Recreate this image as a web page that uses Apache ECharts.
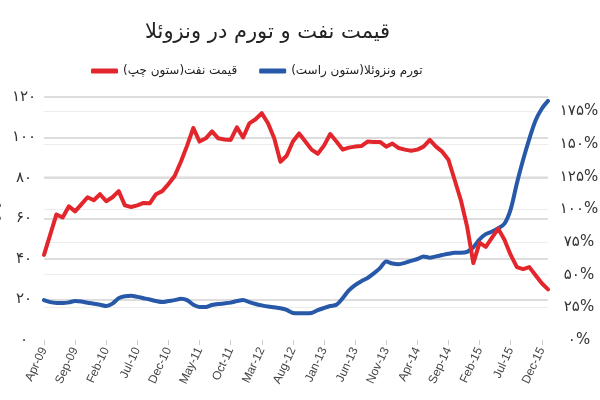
<!DOCTYPE html>
<html>
<head>
<meta charset="utf-8">
<script src="https://cdn.jsdelivr.net/npm/echarts@6/dist/echarts.min.js"></script>
<style>
  html, body { margin: 0; padding: 0; background: #fff; }
  #app { width: 600px; height: 400px; }
</style>
</head>
<body>
<div id="app"></div>
<script>
// months Apr-09 .. Jan-16
var months = [
    'Apr-09', 'May-09', 'Jun-09', 'Jul-09', 'Aug-09', 'Sep-09', 'Oct-09', 'Nov-09', 'Dec-09',
    'Jan-10', 'Feb-10', 'Mar-10', 'Apr-10', 'May-10', 'Jun-10', 'Jul-10', 'Aug-10', 'Sep-10', 'Oct-10', 'Nov-10', 'Dec-10',
    'Jan-11', 'Feb-11', 'Mar-11', 'Apr-11', 'May-11', 'Jun-11', 'Jul-11', 'Aug-11', 'Sep-11', 'Oct-11', 'Nov-11', 'Dec-11',
    'Jan-12', 'Feb-12', 'Mar-12', 'Apr-12', 'May-12', 'Jun-12', 'Jul-12', 'Aug-12', 'Sep-12', 'Oct-12', 'Nov-12', 'Dec-12',
    'Jan-13', 'Feb-13', 'Mar-13', 'Apr-13', 'May-13', 'Jun-13', 'Jul-13', 'Aug-13', 'Sep-13', 'Oct-13', 'Nov-13', 'Dec-13',
    'Jan-14', 'Feb-14', 'Mar-14', 'Apr-14', 'May-14', 'Jun-14', 'Jul-14', 'Aug-14', 'Sep-14', 'Oct-14', 'Nov-14', 'Dec-14',
    'Jan-15', 'Feb-15', 'Mar-15', 'Apr-15', 'May-15', 'Jun-15', 'Jul-15', 'Aug-15', 'Sep-15', 'Oct-15', 'Nov-15', 'Dec-15',
    'Jan-16'
];

// oil price, dollars per barrel (left axis)
var oilPrice = [
    42, 52, 62, 60.5, 66, 63.5, 67, 70.5, 69,
    72, 68.5, 70.5, 73.5, 66.5, 65.7, 66.5, 67.7, 67.5, 72, 73.5, 77,
    81, 88, 96, 104.7, 98, 99.6, 103, 99.6, 99, 98.8, 105, 100,
    107, 109, 112, 107, 99.6, 88, 91, 98, 102, 98, 94, 92,
    96, 101.7, 98, 94, 95, 95.5, 95.8, 98, 97.8, 97.8, 95.5, 97,
    94.8, 94, 93.5, 94, 95.5, 98.8, 95.5, 93, 89, 79, 69, 56,
    38, 48, 46, 50.5, 55, 49.5, 42, 36, 35, 36, 32, 28,
    25
];

// inflation, percent (right axis)
var inflation = [
    30.5, 29, 28.4, 28.4, 28.8, 29.8, 29.5, 28.5, 27.8,
    27, 26, 27.8, 32, 33.5, 33.8, 33, 32, 31, 29.8, 29, 29.8,
    30.5, 31.5, 30.5, 27, 25.3, 25.3, 26.8, 27.6, 28, 28.6, 29.8, 30.7,
    29, 27.6, 26.5, 25.6, 25, 24.3, 23, 20.7, 20.5, 20.5, 20.7, 22.8,
    24.5, 26, 27, 32, 38, 42, 45, 47.5, 51, 55, 60, 58.5,
    58, 59, 60.6, 62, 64, 63, 64, 65, 66, 66.8, 66.8, 67.5,
    71, 77, 81, 83, 85.5, 89, 100, 120, 138, 154, 168, 177,
    183
];

var faDigits = '۰۱۲۳۴۵۶۷۸۹';
function toFa(n) {
    return String(n).replace(/[0-9]/g, function (d) { return faDigits[+d]; });
}

var font = 'DejaVu Sans';

var option = {
    backgroundColor: '#fff',
    textStyle: { fontFamily: font },
    title: {
        text: 'قیمت نفت و تورم در ونزوئلا',
        left: 140,
        top: 17,
        textStyle: { fontFamily: font, fontSize: 21, fontWeight: 'normal', color: '#222' }
    },
    legend: {
        left: 86,
        top: 60,
        itemWidth: 27,
        itemHeight: 5,
        itemGap: 22,
        icon: 'roundRect',
        textStyle: { fontFamily: font, fontSize: 12, color: '#222' },
        data: ['قیمت نفت(ستون چپ)', 'تورم ونزوئلا(ستون راست)']
    },
    grid: {
        left: 44,
        right: 52,
        top: 97,
        bottom: 60,
        containLabel: false,
        outerBoundsMode: 'none'
    },
    xAxis: {
        type: 'category',
        data: months,
        boundaryGap: false,
        axisLine: { show: false },
        axisTick: {
            show: true,
            interval: 4,
            length: 5,
            lineStyle: { color: '#cccccc' }
        },
        axisLabel: {
            interval: 4,
            rotate: 65,
            margin: 8,
            fontSize: 12,
            color: '#444',
            fontFamily: 'Liberation Sans'
        },
        splitLine: { show: false }
    },
    yAxis: [{
        type: 'value',
        min: 0,
        max: 120,
        interval: 20,
        position: 'left',
        name: 'دلار بر بشکه',
        nameLocation: 'middle',
        nameRotate: 90,
        nameGap: 37,
        nameTextStyle: { fontFamily: font, fontSize: 11, color: '#444' },
        axisLine: { show: false },
        axisTick: { show: false },
        axisLabel: {
            align: 'center',
            margin: 20,
            fontSize: 15,
            color: '#333',
            formatter: function (v) { return toFa(v); }
        },
        splitLine: {
            show: true,
            showMinLine: false,
            lineStyle: { color: '#d2d2d2', width: 1.5 }
        }
    }, {
        type: 'value',
        min: 0,
        max: 186,
        interval: 25,
        position: 'right',
        axisLine: { show: false },
        axisTick: { show: false },
        axisLabel: {
            align: 'center',
            margin: 31,
            fontSize: 15,
            color: '#333',
            formatter: function (v) { return v % 25 === 0 ? toFa(v) + '%' : ''; }
        },
        splitLine: {
            show: true,
            showMinLine: false,
            showMaxLine: false,
            lineStyle: { color: '#ececec', width: 1 }
        }
    }],
    series: [{
        name: 'قیمت نفت(ستون چپ)',
        type: 'line',
        yAxisIndex: 0,
        data: oilPrice,
        showSymbol: false,
        symbol: 'none',
        color: '#e3262b',
        lineStyle: { width: 4, color: '#e3262b', join: 'round', cap: 'round' },
        z: 3
    }, {
        name: 'تورم ونزوئلا(ستون راست)',
        type: 'line',
        yAxisIndex: 1,
        data: inflation,
        showSymbol: false,
        symbol: 'none',
        smooth: 0.3,
        color: '#2759a8',
        lineStyle: { width: 4, color: '#2759a8', join: 'round', cap: 'round' },
        z: 2
    }],
    animation: false
};

var myChart = echarts.init(document.getElementById('app'));
myChart.setOption(option);
</script>
</body>
</html>
